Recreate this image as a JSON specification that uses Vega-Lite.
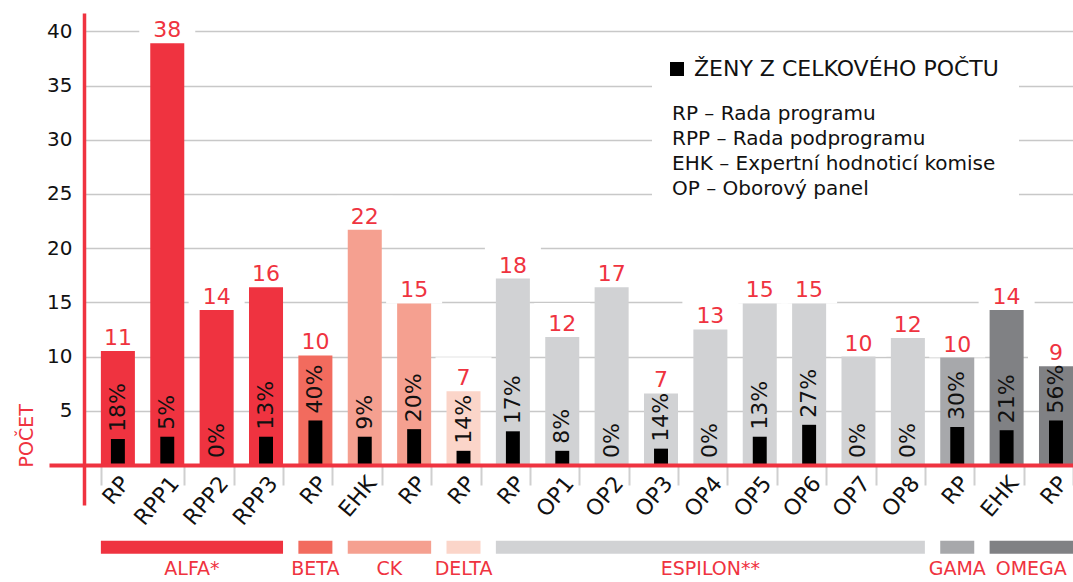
{
  "$schema": "https://vega.github.io/schema/vega-lite/v6.json",
  "autosize": {"type": "none"},
  "width": 989,
  "height": 492,
  "padding": {"left": 84, "top": 13, "right": 0, "bottom": 77},
  "background": "white",
  "config": {"view": {"stroke": null}, "font": "DejaVu Sans"},
  "datasets": {
    "bars": [
      {"id": "ALFA|RP", "group": "ALFA", "total": 11, "h": 10.5, "w": 2.4, "pct": "18%"},
      {"id": "ALFA|RPP1", "group": "ALFA", "total": 38, "h": 38.9, "w": 2.6, "pct": "5%"},
      {"id": "ALFA|RPP2", "group": "ALFA", "total": 14, "h": 14.3, "w": 0, "pct": "0%"},
      {"id": "ALFA|RPP3", "group": "ALFA", "total": 16, "h": 16.4, "w": 2.6, "pct": "13%"},
      {"id": "BETA|RP", "group": "BETA", "total": 10, "h": 10.1, "w": 4.1, "pct": "40%"},
      {"id": "CK|EHK", "group": "CK", "total": 22, "h": 21.7, "w": 2.6, "pct": "9%"},
      {"id": "CK|RP", "group": "CK", "total": 15, "h": 14.9, "w": 3.3, "pct": "20%"},
      {"id": "DELTA|RP", "group": "DELTA", "total": 7, "h": 6.8, "w": 1.3, "pct": "14%"},
      {"id": "ESPILON|RP", "group": "ESPILON", "total": 18, "h": 17.2, "w": 3.1, "pct": "17%"},
      {"id": "ESPILON|OP1", "group": "ESPILON", "total": 12, "h": 11.8, "w": 1.3, "pct": "8%"},
      {"id": "ESPILON|OP2", "group": "ESPILON", "total": 17, "h": 16.4, "w": 0, "pct": "0%"},
      {"id": "ESPILON|OP3", "group": "ESPILON", "total": 7, "h": 6.6, "w": 1.5, "pct": "14%"},
      {"id": "ESPILON|OP4", "group": "ESPILON", "total": 13, "h": 12.5, "w": 0, "pct": "0%"},
      {"id": "ESPILON|OP5", "group": "ESPILON", "total": 15, "h": 14.9, "w": 2.6, "pct": "13%"},
      {"id": "ESPILON|OP6", "group": "ESPILON", "total": 15, "h": 14.9, "w": 3.7, "pct": "27%"},
      {"id": "ESPILON|OP7", "group": "ESPILON", "total": 10, "h": 10.0, "w": 0, "pct": "0%"},
      {"id": "ESPILON|OP8", "group": "ESPILON", "total": 12, "h": 11.7, "w": 0, "pct": "0%"},
      {"id": "GAMA|RP", "group": "GAMA", "total": 10, "h": 9.9, "w": 3.5, "pct": "30%"},
      {"id": "OMEGA|EHK", "group": "OMEGA", "total": 14, "h": 14.3, "w": 3.2, "pct": "21%"},
      {"id": "OMEGA|RP", "group": "OMEGA", "total": 9, "h": 9.1, "w": 4.1, "pct": "56%"}
    ],
    "groups": [
      {"group": "ALFA", "label": "ALFA*", "start": "ALFA|RP", "end": "ALFA|RPP3", "mid": "ALFA|RPP2", "even": true},
      {"group": "BETA", "label": "BETA", "start": "BETA|RP", "end": "BETA|RP", "mid": "BETA|RP", "even": false},
      {"group": "CK", "label": "CK", "start": "CK|EHK", "end": "CK|RP", "mid": "CK|RP", "even": true},
      {"group": "DELTA", "label": "DELTA", "start": "DELTA|RP", "end": "DELTA|RP", "mid": "DELTA|RP", "even": false},
      {"group": "ESPILON", "label": "ESPILON**", "start": "ESPILON|RP", "end": "ESPILON|OP8", "mid": "ESPILON|OP4", "even": false},
      {"group": "GAMA", "label": "GAMA", "start": "GAMA|RP", "end": "GAMA|RP", "mid": "GAMA|RP", "even": false},
      {"group": "OMEGA", "label": "OMEGA", "start": "OMEGA|EHK", "end": "OMEGA|RP", "mid": "OMEGA|RP", "even": true}
    ]
  },
  "resolve": {"scale": {"color": "independent"}},
  "layer": [
    {
      "data": {"name": "bars"},
      "mark": {"type": "tick", "orient": "horizontal", "size": 56, "thickness": 34, "yOffset": -17, "color": "white", "opacity": 1},
      "encoding": {
        "x": {"field": "id", "type": "nominal", "sort": null,
          "scale": {"domain": ["ALFA|RP","ALFA|RPP1","ALFA|RPP2","ALFA|RPP3","BETA|RP","CK|EHK","CK|RP","DELTA|RP","ESPILON|RP","ESPILON|OP1","ESPILON|OP2","ESPILON|OP3","ESPILON|OP4","ESPILON|OP5","ESPILON|OP6","ESPILON|OP7","ESPILON|OP8","GAMA|RP","OMEGA|EHK","OMEGA|RP"],
            "paddingInner": 0.311, "paddingOuter": 0.171, "align": 1},
          "axis": {"orient": "bottom", "offset": -40, "zindex": 1, "title": null,
            "domainColor": "#EF3340", "domainWidth": 4,
            "tickBand": "extent", "tickSize": 20, "tickWidth": 2,
            "tickColor": {"condition": {"test": "datum.value === 'ALFA|RP'", "value": "transparent"}, "value": "#CFCFCF"},
            "labelExpr": "split(datum.value, '|')[1]", "labelAngle": -50, "labelFontSize": 22, "labelColor": "#111111", "labelPadding": -6, "labelOffset": 7}
        },
        "y": {"field": "h", "type": "quantitative",
          "scale": {"domain": [-3.7, 41.7], "nice": false, "zero": false},
          "axis": {"values": [0, 5, 10, 15, 20, 25, 30, 35, 40], "zindex": 0,
            "domainColor": "#EF3340", "domainWidth": 3.5,
            "tickSize": 35, "tickWidth": 4,
            "tickColor": {"condition": {"test": "datum.value === 0", "value": "#EF3340"}, "value": "transparent"},
            "grid": true, "gridColor": "#C8C8C8", "gridWidth": 1.5,
            "labelExpr": "datum.value === 0 ? '' : datum.label", "labelFontSize": 20, "labelColor": "#111111", "labelPadding": -23,
            "title": "POČET", "titleColor": "#EF3340", "titleFontSize": 19, "titleFontWeight": "normal",
            "titleAngle": 270, "titleX": -52, "titleY": 454, "titleAlign": "left", "titleBaseline": "alphabetic"}
        }
      }
    },
    {
      "data": {"name": "bars"},
      "mark": {"type": "bar"},
      "encoding": {
        "x": {"field": "id", "type": "nominal", "sort": null},
        "y": {"field": "h", "type": "quantitative"},
        "color": {"field": "group", "type": "nominal", "legend": null,
          "scale": {"domain": ["ALFA","BETA","CK","DELTA","ESPILON","GAMA","OMEGA"],
            "range": ["#EF3340","#F26B5E","#F5A090","#FBD5C9","#D1D2D4","#A7A8AB","#808184"]}}
      }
    },
    {
      "data": {"name": "bars"},
      "mark": {"type": "bar", "width": {"band": 0.41}},
      "encoding": {
        "x": {"field": "id", "type": "nominal", "sort": null},
        "y": {"field": "w", "type": "quantitative"},
        "color": {"datum": "ŽENY Z CELKOVÉHO POČTU", "type": "nominal",
          "scale": {"range": ["#000000"]},
          "legend": {"orient": "none", "legendX": 568, "legendY": 25, "fillColor": "white", "padding": 20,
            "title": ["RP – Rada programu", "RPP – Rada podprogramu", "EHK – Expertní hodnoticí komise", "OP – Oborový panel"],
            "titleOrient": "bottom", "titleAnchor": "start", "titleAlign": "left", "titleFontSize": 20, "titleFontWeight": "normal",
            "titleLineHeight": 25, "titleColor": "#111111", "titlePadding": 24, "titleLimit": 600,
            "labelFontSize": 22, "labelColor": "#111111", "labelLimit": 600, "labelOffset": 6, "symbolOffset": -6,
            "symbolType": "square", "symbolSize": 196, "symbolStrokeWidth": 0}}
      }
    },
    {
      "data": {"name": "bars"},
      "mark": {"type": "text", "dy": -6, "baseline": "alphabetic", "fontSize": 22, "color": "#EF3340"},
      "encoding": {
        "x": {"field": "id", "type": "nominal", "sort": null},
        "y": {"field": "h", "type": "quantitative"},
        "text": {"field": "total", "type": "quantitative"}
      }
    },
    {
      "data": {"name": "bars"},
      "mark": {"type": "text", "angle": 270, "align": "left", "baseline": "middle", "dx": 7, "fontSize": 22, "color": "#111111"},
      "encoding": {
        "x": {"field": "id", "type": "nominal", "sort": null},
        "y": {"field": "w", "type": "quantitative"},
        "text": {"field": "pct", "type": "nominal"}
      }
    },
    {
      "data": {"name": "groups"},
      "mark": {"type": "rect"},
      "encoding": {
        "x": {"field": "start", "type": "nominal", "sort": null, "bandPosition": 0},
        "x2": {"field": "end", "bandPosition": 1},
        "y": {"datum": -7.0},
        "y2": {"datum": -8.2},
        "color": {"field": "group", "type": "nominal", "legend": null,
          "scale": {"domain": ["ALFA","BETA","CK","DELTA","ESPILON","GAMA","OMEGA"],
            "range": ["#EF3340","#F26B5E","#F5A090","#FBD5C9","#D1D2D4","#A7A8AB","#808184"]}}
      }
    },
    {
      "data": {"name": "groups"},
      "transform": [{"filter": "!datum.even"}],
      "mark": {"type": "text", "baseline": "alphabetic", "fontSize": 19, "color": "#EF3340"},
      "encoding": {
        "x": {"field": "mid", "type": "nominal", "sort": null, "bandPosition": 0.5},
        "y": {"datum": -10.2},
        "text": {"field": "label", "type": "nominal"}
      }
    },
    {
      "data": {"name": "groups"},
      "transform": [{"filter": "datum.even"}],
      "mark": {"type": "text", "baseline": "alphabetic", "fontSize": 19, "color": "#EF3340"},
      "encoding": {
        "x": {"field": "mid", "type": "nominal", "sort": null, "bandPosition": -0.226},
        "y": {"datum": -10.2},
        "text": {"field": "label", "type": "nominal"}
      }
    }
  ]
}
